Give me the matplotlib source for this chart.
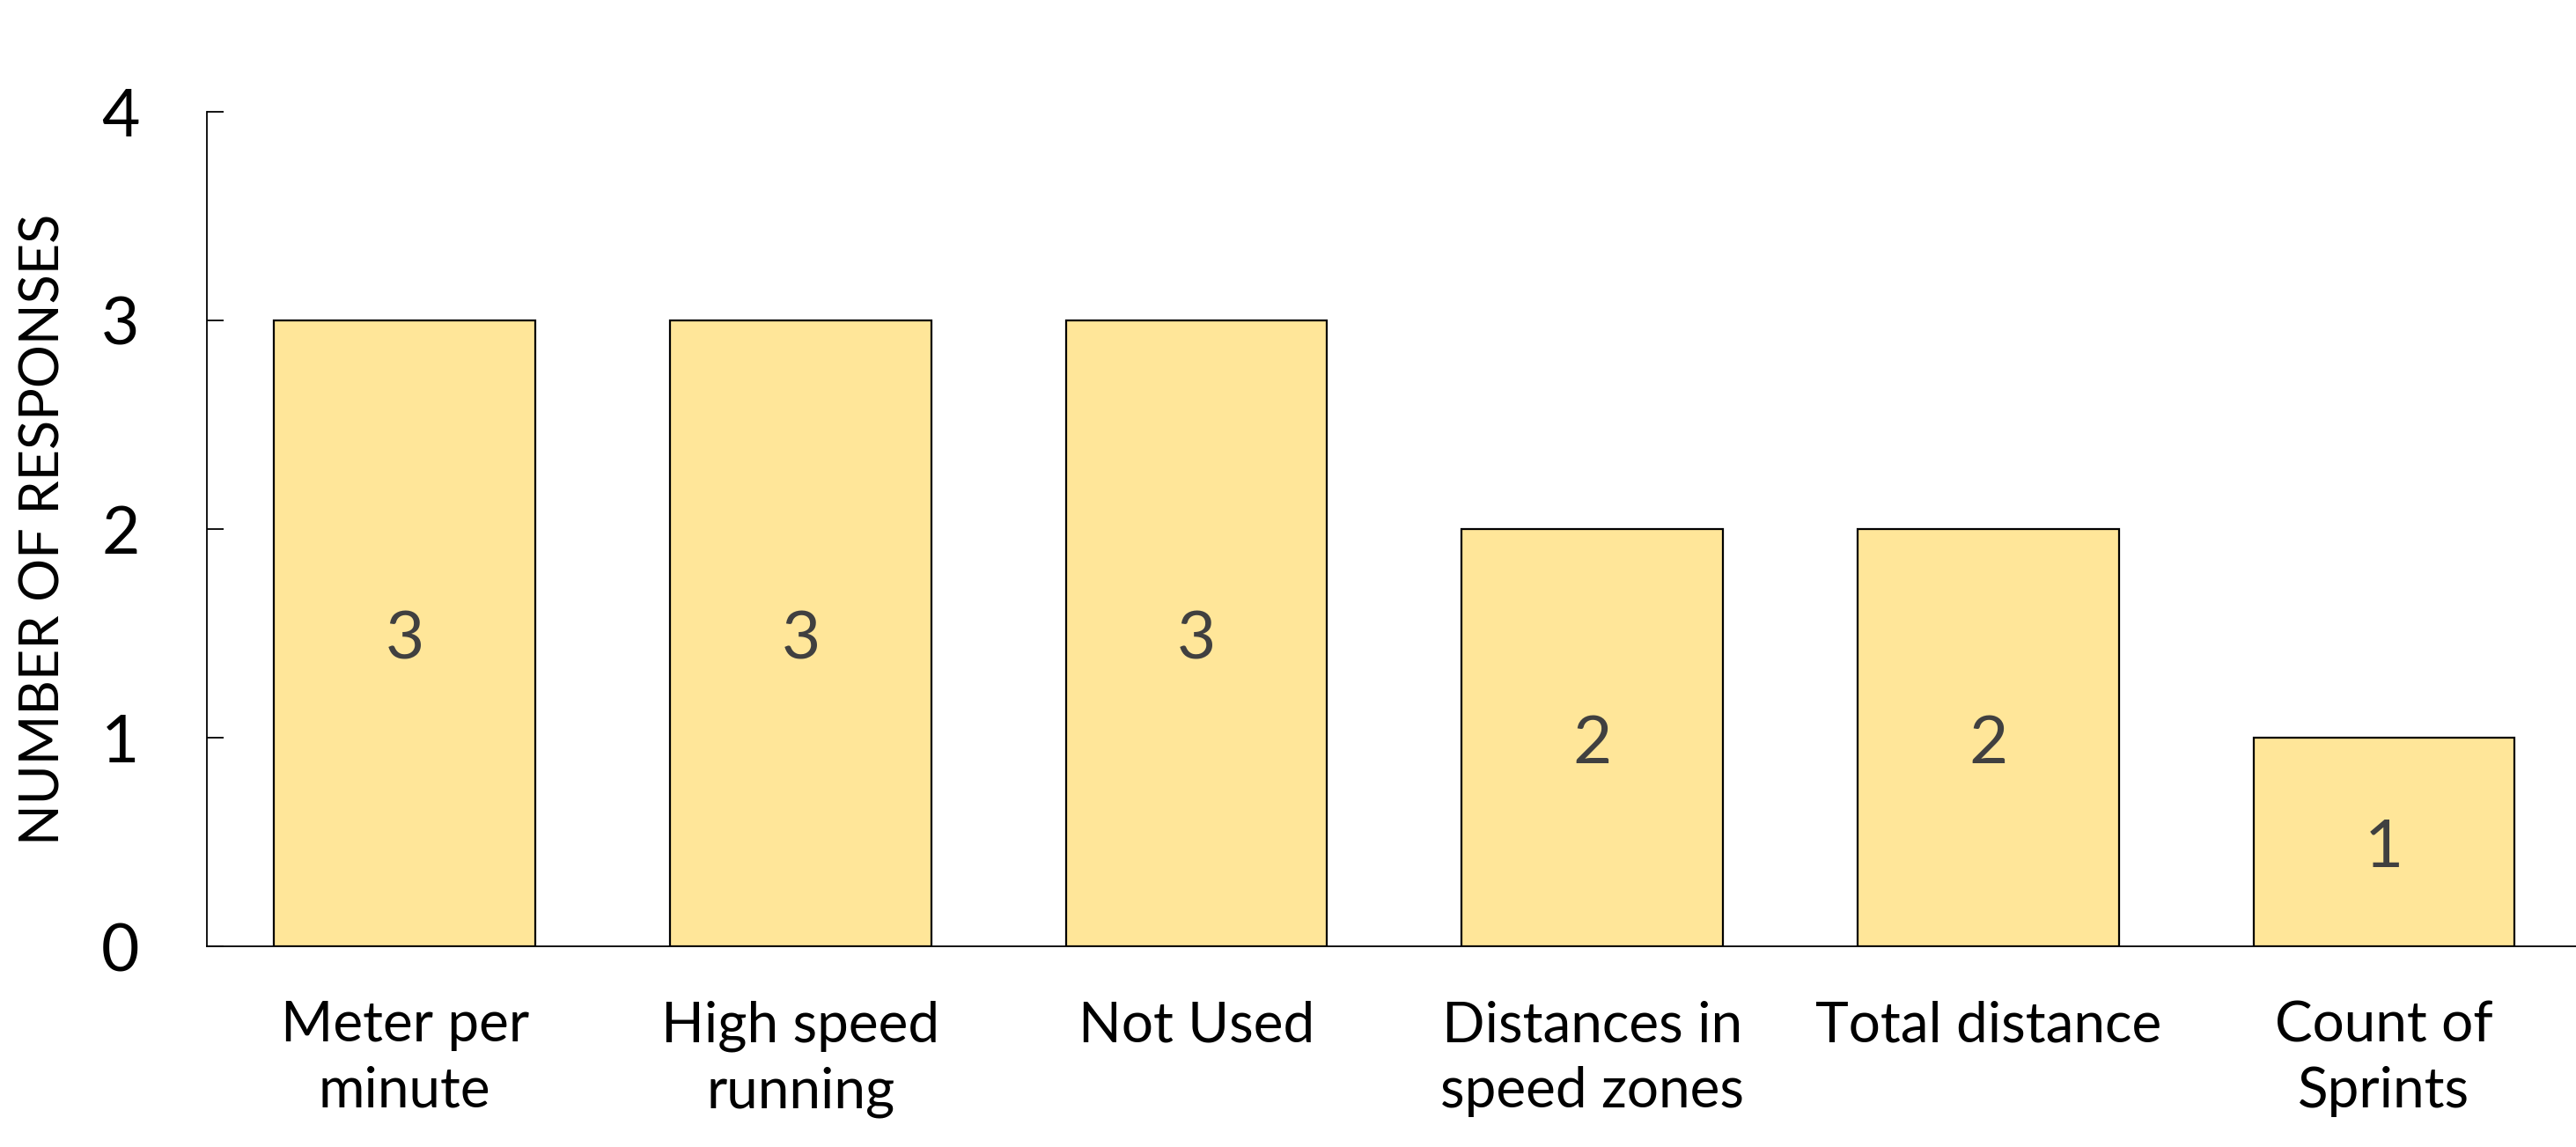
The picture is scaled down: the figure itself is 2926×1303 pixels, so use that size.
import matplotlib.pyplot as plt

categories = ["Meter per\nminute", "High speed\nrunning", "Not Used",
              "Distances in\nspeed zones", "Total distance", "Count of\nSprints"]
responses = [3, 3, 3, 2, 2, 1]
y_ticks = [0, 1, 2, 3, 4]

BAR_COLOR = "#FFE699"
FONT = ["Lato", "DejaVu Sans"]

plt.rcParams["font.family"] = FONT

fig = plt.figure(figsize=(29.26, 13.03), dpi=100)
ax = fig.add_axes([235 / 2926, 1 - 1075 / 1303, (2926 - 235) / 2926, (1075 - 127) / 1303])

x = range(len(categories))
bars = ax.bar(x, responses, width=0.66, color=BAR_COLOR, edgecolor="black", linewidth=1.6)

# value labels in the middle of each bar
for rect, v in zip(bars, responses):
    ax.text(rect.get_x() + rect.get_width() / 2, v / 2 - 0.03, f"{v}",
            ha="center", va="center", fontsize=55, color="#404040")

ax.set_xlim(-0.5, 5.485)
ax.set_ylim(0, 4)
ax.set_yticks(y_ticks)
ax.set_xticks(list(x))
ax.set_xticklabels(categories, fontsize=46, linespacing=1.35)
ax.tick_params(axis="x", length=0, pad=44)
ax.tick_params(axis="y", direction="in", length=14, width=1.3, labelsize=54, pad=55)

for side in ("top", "right"):
    ax.spines[side].set_visible(False)
for side in ("left", "bottom"):
    ax.spines[side].set_linewidth(1.3)

ax.set_ylabel("NUMBER OF RESPONSES", fontsize=44)
ax.yaxis.set_label_coords(-0.058, 0.5)

fig.savefig("out.png", dpi=100)
